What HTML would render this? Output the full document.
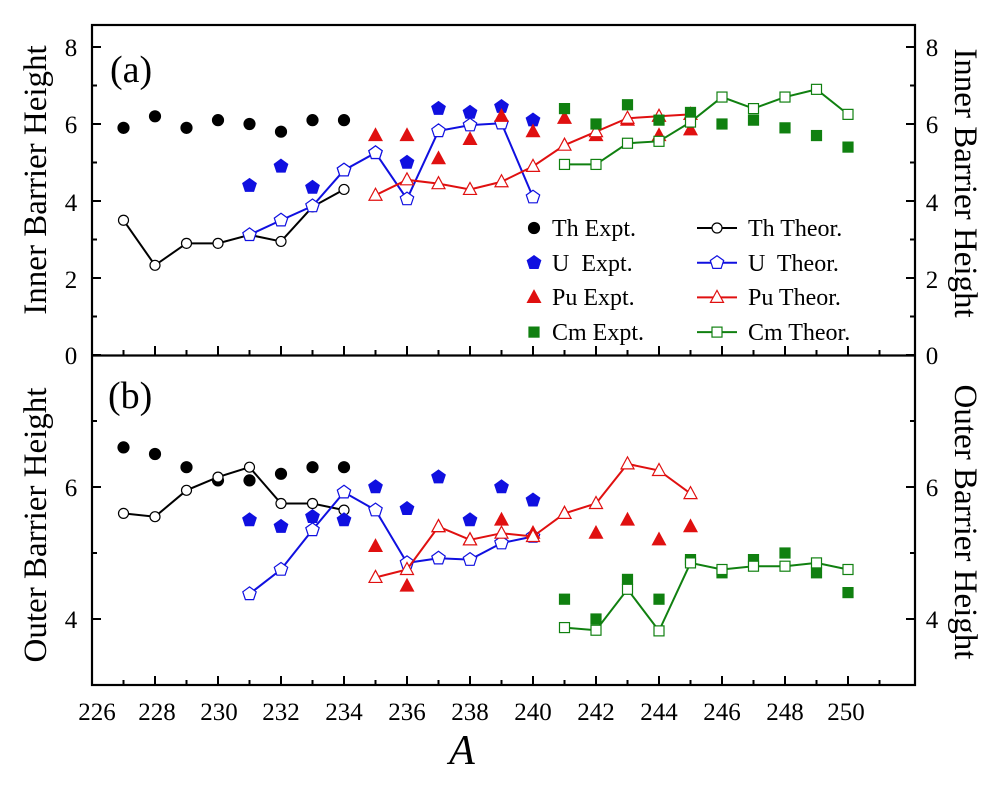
<!DOCTYPE html>
<html><head><meta charset="utf-8">
<style>
body{margin:0;background:#fff;}
svg text{font-family:"Liberation Serif",serif;fill:#000;white-space:pre;}
</style></head>
<body>
<svg id="s" width="1005" height="792" xmlns="http://www.w3.org/2000/svg">
<g font-size="25" text-anchor="middle">
<text x="71" y="56">8</text><text x="71" y="133">6</text><text x="71" y="211">4</text><text x="71" y="288">2</text><text x="71" y="364">0</text>
<text x="71" y="496">6</text><text x="71" y="628">4</text>
</g>
<g font-size="25" text-anchor="middle">
<text x="932" y="56">8</text><text x="932" y="133">6</text><text x="932" y="211">4</text><text x="932" y="288">2</text><text x="932" y="364">0</text>
<text x="932" y="496">6</text><text x="932" y="628">4</text>
</g>
<g font-size="25" text-anchor="middle">
<text x="97" y="720">226</text><text x="157" y="720">228</text><text x="219" y="720">230</text><text x="281" y="720">232</text><text x="344" y="720">234</text><text x="407" y="720">236</text><text x="470" y="720">238</text><text x="533" y="720">240</text><text x="596" y="720">242</text><text x="659" y="720">244</text><text x="722" y="720">246</text><text x="785" y="720">248</text><text x="846" y="720">250</text>
</g>
<text x="462" y="764" font-size="42" font-style="italic" text-anchor="middle">A</text>
<text font-size="33" text-anchor="middle" transform="translate(46,180) rotate(-90)">Inner Barrier Height</text>
<text font-size="33" text-anchor="middle" transform="translate(46,525) rotate(-90)">Outer Barrier Height</text>
<text font-size="33" text-anchor="middle" transform="translate(955,183) rotate(90)">Inner Barrier Height</text>
<text font-size="33" text-anchor="middle" transform="translate(955,522) rotate(90)">Outer Barrier Height</text>
<text x="110" y="82" font-size="38">(a)</text>
<text x="108" y="408" font-size="38">(b)</text>
<g font-size="24">
<text x="552" y="236">Th Expt.</text><text x="552" y="271">U  Expt.</text><text x="552" y="305">Pu Expt.</text><text x="552" y="340">Cm Expt.</text>
<text x="748" y="236">Th Theor.</text><text x="748" y="271">U  Theor.</text><text x="748" y="305">Pu Theor.</text><text x="748" y="340">Cm Theor.</text>
</g>
<g id="g"></g>
</svg>
<script>
var g=document.getElementById('g'),h='';
function X(a){return 92+31.5*(a-226);}
function YT(v){return 355-38.5*v;}
function YB(v){return 487-66*(v-6);}
h+='<rect x="92" y="25" width="823" height="660" fill="none" stroke="#000" stroke-width="2.2"/>';
h+='<line x1="92" y1="355.5" x2="915" y2="355.5" stroke="#000" stroke-width="2.2"/>';
for(var a=226;a<=251;a++){var L=(a%2==0)?9:5,x=X(a);
h+='<line x1="'+x+'" y1="685" x2="'+x+'" y2="'+(685-L)+'" stroke="#000" stroke-width="2"/>';
h+='<line x1="'+x+'" y1="355" x2="'+x+'" y2="'+(355-L)+'" stroke="#000" stroke-width="2"/>';}
for(var v=0;v<=8;v++){var L=(v%2==0)?9:5,y=YT(v);
h+='<line x1="92" y1="'+y+'" x2="'+(92+L)+'" y2="'+y+'" stroke="#000" stroke-width="2"/><line x1="915" y1="'+y+'" x2="'+(915-L)+'" y2="'+y+'" stroke="#000" stroke-width="2"/>';}
for(var v=3;v<=8;v++){var L=(v%2==0)?9:5,y=YB(v);
h+='<line x1="92" y1="'+y+'" x2="'+(92+L)+'" y2="'+y+'" stroke="#000" stroke-width="2"/><line x1="915" y1="'+y+'" x2="'+(915-L)+'" y2="'+y+'" stroke="#000" stroke-width="2"/>';}
function mk(t,x,y,c,fill){var f=fill?c:'#fff';
if(t=='c')return '<circle cx="'+x+'" cy="'+y+'" r="'+(fill?5.5:5)+'" fill="'+f+'" stroke="'+c+'" stroke-width="1.2"/>';
if(t=='p'){var p=[],r=7;for(var i=0;i<5;i++){var an=-Math.PI/2+i*2*Math.PI/5;p.push((x+r*Math.cos(an)).toFixed(1)+','+(y+r*Math.sin(an)).toFixed(1));}return '<polygon points="'+p.join(' ')+'" fill="'+f+'" stroke="'+c+'" stroke-width="1.2"/>';}
if(t=='t')return '<polygon points="'+x+','+(y-7)+' '+(x-6.5)+','+(y+5)+' '+(x+6.5)+','+(y+5)+'" fill="'+f+'" stroke="'+c+'" stroke-width="1.2"/>';
if(t=='s')return '<rect x="'+(x-5)+'" y="'+(y-5)+'" width="10" height="10" fill="'+f+'" stroke="'+c+'" stroke-width="1.2"/>';}
function series(a0,vals,Y,t,c,line){var pts=[];for(var i=0;i<vals.length;i++)pts.push([X(a0+i),Y(vals[i])]);
if(line)h+='<polyline points="'+pts.map(function(p){return p.join(',')}).join(' ')+'" fill="none" stroke="'+c+'" stroke-width="2"/>';
pts.forEach(function(p){h+=mk(t,p[0],p[1],c,!line);});}
var K='#000',B='#1010e0',R='#e01010',G='#108010';
series(227,[5.9,6.2,5.9,6.1,6.0,5.8,6.1,6.1],YT,'c',K,0);
series(227,[3.5,2.33,2.9,2.9,3.12,2.95,3.85,4.3],YT,'c',K,1);
series(231,[4.4,4.9,4.35,4.8,5.25,5.0,6.4,6.3,6.45,6.1],YT,'p',B,0);
series(231,[3.12,3.5,3.87,4.8,5.25,4.05,5.82,5.97,6.02,4.1],YT,'p',B,1);
series(235,[5.7,5.7,5.1,5.6,6.2,5.8,6.15,5.7,6.1,5.7,5.85],YT,'t',R,0);
series(235,[4.15,4.55,4.45,4.3,4.5,4.9,5.45,5.8,6.15,6.2,6.25],YT,'t',R,1);
series(241,[6.4,6.0,6.5,6.1,6.3,6.0,6.1,5.9,5.7,5.4],YT,'s',G,0);
series(241,[4.95,4.95,5.5,5.55,6.05,6.7,6.4,6.7,6.9,6.25],YT,'s',G,1);
series(227,[6.6,6.5,6.3,6.1,6.1,6.2,6.3,6.3],YB,'c',K,0);
series(227,[5.6,5.55,5.95,6.15,6.3,5.75,5.75,5.65],YB,'c',K,1);
series(231,[5.5,5.4,5.55,5.5,6.0,5.67,6.15,5.5,6.0,5.8],YB,'p',B,0);
series(231,[4.38,4.75,5.35,5.92,5.65,4.85,4.92,4.9,5.15,5.25],YB,'p',B,1);
series(235,[5.1,4.5,5.4,5.2,5.5,5.3,5.6,5.3,5.5,5.2,5.4],YB,'t',R,0);
series(235,[4.63,4.75,5.4,5.2,5.3,5.25,5.6,5.75,6.35,6.25,5.9],YB,'t',R,1);
series(241,[4.3,4.0,4.6,4.3,4.9,4.7,4.9,5.0,4.7,4.4],YB,'s',G,0);
series(241,[3.87,3.83,4.45,3.82,4.85,4.75,4.8,4.8,4.85,4.75],YB,'s',G,1);
var lg=[['c',K],['p',B],['t',R],['s',G]];
lg.forEach(function(m,i){var y=228+i*34.7;h+=mk(m[0],534,y,m[1],1);
h+='<line x1="697" y1="'+y+'" x2="737" y2="'+y+'" stroke="'+m[1]+'" stroke-width="2"/>'+mk(m[0],717,y,m[1],0);});
g.innerHTML=h;
</script>
</body></html>
